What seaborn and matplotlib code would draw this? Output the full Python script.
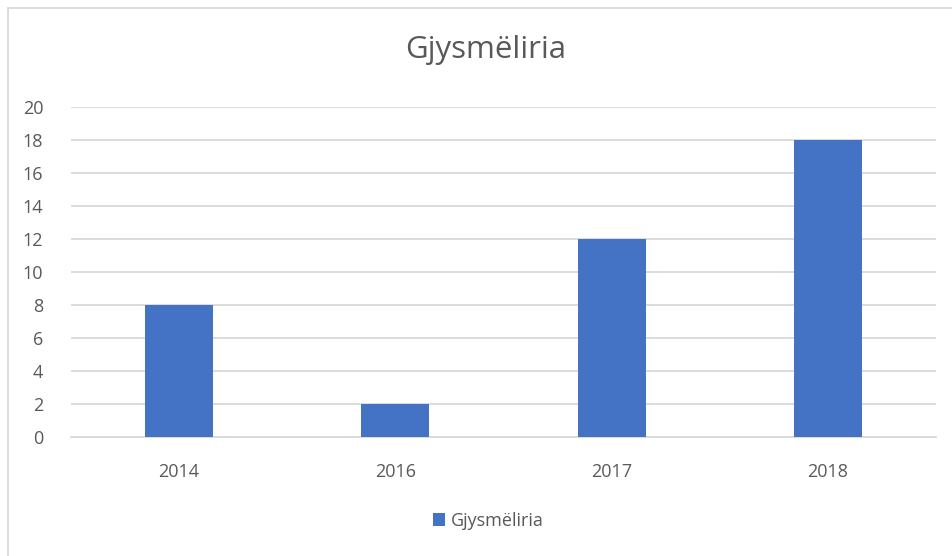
import pandas as pd
import matplotlib.pyplot as plt
import seaborn as sns
from matplotlib.lines import Line2D
from matplotlib.patches import Patch

years = ["2014", "2016", "2017", "2018"]
values = [8, 2, 12, 18]
series_name = "Gjysmëliria"

df = pd.DataFrame({"Viti": years, "Vlera": values})

sns.set_style("white")
plt.rcParams["font.family"] = ["Open Sans", "DejaVu Sans"]

text_col = "#595959"
bar_col = "#4472C4"
grid_col = "#D9D9D9"

fig = plt.figure(figsize=(9.52, 5.56), dpi=100)
ax = fig.add_axes([71 / 952, 119 / 556, 865 / 952, 330 / 556])

sns.barplot(data=df, x="Viti", y="Vlera", color=bar_col, width=0.315,
            saturation=1, linewidth=0, edgecolor="none", ax=ax, zorder=3)

ax.set_xlim(-0.5, 3.5)
ax.set_ylim(0, 20)
ax.set_yticks(range(0, 21, 2))
ax.yaxis.grid(True, color=grid_col, linewidth=1.3, zorder=0)
ax.set_axisbelow(True)
for s in ["top", "right", "left"]:
    ax.spines[s].set_visible(False)
ax.spines["bottom"].set_color(grid_col)
ax.spines["bottom"].set_linewidth(1.3)
ax.tick_params(axis="both", length=0, labelsize=13, colors=text_col)
ax.tick_params(axis="y", pad=20)
ax.tick_params(axis="x", pad=19)
ax.set_xlabel("")
ax.set_ylabel("")

fig.text(486 / 952, 1 - 50 / 556, "Gjysmëliria", ha="center", va="center",
         fontsize=22.5, color=text_col)

handles = [Patch(facecolor=bar_col, edgecolor="none", label=series_name)]
fig.legend(handles=handles, loc="center", bbox_to_anchor=(488 / 952, 1 - 521 / 556),
           frameon=False, fontsize=13, labelcolor=text_col,
           handlelength=0.7, handleheight=0.7, handletextpad=0.3)

# chart frame (left and top edges visible)
fig.add_artist(Line2D([7.5 / 952, 7.5 / 952], [0, 1 - 8 / 556],
                      transform=fig.transFigure, color=grid_col, linewidth=1.3))
fig.add_artist(Line2D([7.5 / 952, 1], [1 - 8 / 556, 1 - 8 / 556],
                      transform=fig.transFigure, color=grid_col, linewidth=1.3))

fig.savefig("out.png", dpi=100)
